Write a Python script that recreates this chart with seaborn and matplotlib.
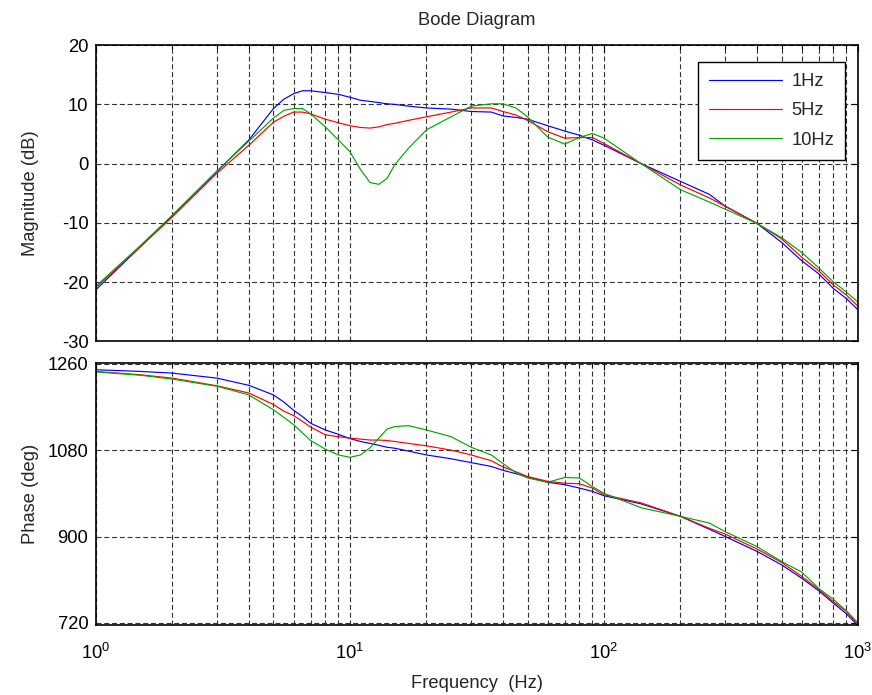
import numpy as np
import pandas as pd
import matplotlib
matplotlib.use("Agg")
import matplotlib.pyplot as plt
import seaborn as sns
from matplotlib.ticker import LogLocator, FixedLocator

freq = [1, 1.5, 2, 3, 4, 5, 5.5, 6, 6.5, 7, 8, 9, 10, 11, 12, 13, 14, 15, 17, 20,
        25, 30, 36, 40, 45, 50, 60, 70, 80, 90, 100, 140, 200, 260, 300, 400,
        500, 600, 700, 800, 900, 1000]

mag_1hz = [-21.3, -14.0, -8.8, -1.3, 4.0, 9.3, 10.9, 11.8, 12.3, 12.3, 12.0, 11.7, 11.2,
           10.7, 10.5, 10.3, 10.1, 10.0, 9.7, 9.4, 9.2, 8.8, 8.7, 8.05, 7.8, 7.5, 6.4,
           5.5, 4.8, 4.0, 3.1, 0.0, -3.0, -5.2, -7.2, -10.1, -13.3, -16.4, -18.6,
           -21.1, -22.8, -24.7]
mag_5hz = [-20.9, -14.0, -9.0, -1.6, 3.1, 7.0, 8.0, 8.7, 8.7, 8.4, 7.5, 6.9, 6.4,
           6.1, 6.0, 6.2, 6.6, 6.8, 7.3, 7.9, 8.7, 9.4, 9.4, 8.8, 8.2, 7.3, 5.4,
           4.3, 4.4, 4.4, 3.4, 0.0, -3.6, -5.8, -7.2, -10.1, -12.7, -15.8, -18.1,
           -20.5, -22.2, -24.1]
mag_10hz = [-20.7, -13.8, -8.7, -1.2, 3.8, 7.7, 9.0, 9.3, 9.3, 8.4, 6.2, 4.0, 2.0,
            -1.0, -3.2, -3.5, -2.5, -0.2, 2.6, 5.7, 7.9, 9.7, 10.1, 10.1, 9.4, 7.9, 4.5,
            3.3, 4.4, 5.1, 4.3, 0.0, -4.4, -6.5, -7.7, -10.1, -12.5, -15.0, -17.6,
            -20.0, -21.7, -23.4]

phase_1hz = [1247.5, 1244, 1240.5, 1230, 1215, 1195, 1180, 1163, 1150, 1136, 1122, 1113,
             1104, 1098, 1094, 1090, 1086, 1084, 1078, 1070, 1062, 1054, 1046, 1038,
             1031, 1024, 1013, 1008, 1001, 994, 985, 968, 942, 915, 900, 869, 841,
             813, 787, 761, 739, 714]
phase_5hz = [1244, 1237, 1230, 1214, 1199, 1175, 1161, 1152, 1140, 1128, 1112, 1108,
             1105, 1103, 1101, 1101, 1100, 1098, 1094, 1089, 1080, 1070, 1058, 1045,
             1035, 1025, 1015, 1011, 1010, 1001, 987, 970, 942, 917, 905, 874, 846,
             817, 790, 764, 744, 716]
phase_10hz = [1243, 1236, 1228, 1213, 1195, 1164, 1148, 1133, 1116, 1100, 1082, 1070,
              1065, 1070, 1085, 1105, 1124, 1129, 1131, 1122, 1108, 1086, 1070, 1052,
              1033, 1022, 1013, 1023, 1022, 1004, 990, 960, 942, 928, 910, 879, 848,
              826, 792, 769, 745, 720]

series = ["1Hz", "5Hz", "10Hz"]
colors = ["#0000ff", "#ff0000", "#00a800"]
mag_ticks = [-30, -20, -10, 0, 10, 20]
phase_ticks = [720, 900, 1080, 1260]

rows = []
for name, m, p in zip(series, [mag_1hz, mag_5hz, mag_10hz], [phase_1hz, phase_5hz, phase_10hz]):
    for f, mv, pv in zip(freq, m, p):
        rows.append({"Frequency": f, "Magnitude": mv, "Phase": pv, "Input": name})
df = pd.DataFrame(rows)

sns.set_style("white")
plt.rcParams["font.family"] = ["Liberation Sans", "DejaVu Sans"]
plt.rcParams["mathtext.fontset"] = "custom"
plt.rcParams["mathtext.rm"] = "Liberation Sans"
plt.rcParams["mathtext.it"] = "Liberation Sans:italic"
plt.rcParams["mathtext.bf"] = "Liberation Sans:bold"
plt.rcParams["axes.unicode_minus"] = False

FS = 13.2

fig = plt.figure(figsize=(8.72, 6.95), dpi=100)
ax1 = fig.add_axes([0.110, 0.509, 0.874, 0.426])
ax2 = fig.add_axes([0.110, 0.101, 0.874, 0.377])

pal = dict(zip(series, colors))
sns.lineplot(data=df, x="Frequency", y="Magnitude", hue="Input", palette=pal,
             ax=ax1, linewidth=0.85, sort=False, estimator=None)
sns.lineplot(data=df, x="Frequency", y="Phase", hue="Input", palette=pal,
             ax=ax2, linewidth=0.85, sort=False, estimator=None, legend=False)

grid_ls = (0, (4.5, 2.5))
for ax in (ax1, ax2):
    ax.set_xscale("log")
    ax.set_xlim(1, 1000)
    ax.xaxis.set_major_locator(LogLocator(base=10, numticks=10))
    ax.xaxis.set_minor_locator(LogLocator(base=10, subs=np.arange(2, 10), numticks=20))
    ax.grid(True, which="major", axis="both", color="0.2", linestyle=grid_ls, linewidth=0.8)
    ax.grid(True, which="minor", axis="x", color="0.2", linestyle=grid_ls, linewidth=0.8)
    ax.tick_params(which="both", direction="in", top=True, right=True,
                   labelsize=FS, colors="black")
    ax.tick_params(which="major", length=5, width=0.8)
    ax.tick_params(which="minor", length=3, width=0.8)
    ax.tick_params(axis="y", which="major", pad=5.5)
    ax.tick_params(axis="x", which="major", pad=13)
    for s in ax.spines.values():
        s.set_visible(True)
        s.set_color("black")
        s.set_linewidth(1.2)
    ax.set_axisbelow(True)

ax1.set_ylim(-30, 20)
ax1.yaxis.set_major_locator(FixedLocator(mag_ticks))
ax1.tick_params(axis="x", which="both", labelbottom=False)
ax1.set_xlabel("")
ax1.set_ylabel("Magnitude (dB)", fontsize=FS)
ax1.yaxis.set_label_coords(-0.075, 0.5)
ax1.set_title("Bode Diagram", fontsize=FS, pad=14.5)

ax2.set_ylim(716, 1262)
ax2.yaxis.set_major_locator(FixedLocator(phase_ticks))
ax2.set_ylabel("Phase (deg)", fontsize=FS)
ax2.yaxis.set_label_coords(-0.075, 0.5)
ax2.set_xlabel("Frequency  (Hz)", fontsize=FS, labelpad=8.5)

leg = ax1.legend(loc="upper right", bbox_to_anchor=(0.983, 0.942), fontsize=FS,
                 handlelength=3.98, handletextpad=0.5, labelspacing=0.66,
                 borderpad=0.6, borderaxespad=0.0, fancybox=False, framealpha=1,
                 edgecolor="black", title=None)
leg.get_frame().set_linewidth(1.0)

fig.savefig("out.png", dpi=100, facecolor="white")
